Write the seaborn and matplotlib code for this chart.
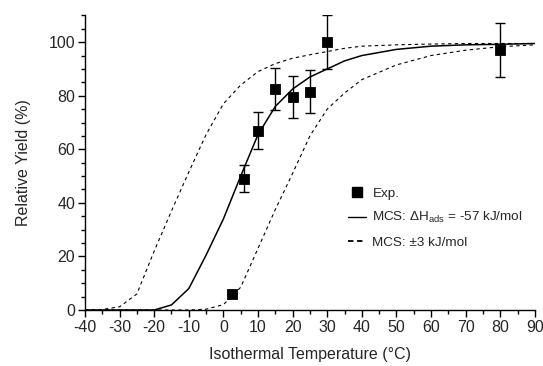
import numpy as np
import pandas as pd
import matplotlib
matplotlib.use("Agg")
import matplotlib.pyplot as plt
from matplotlib.lines import Line2D
from matplotlib.ticker import MultipleLocator
import seaborn as sns

# ------------------ Data ------------------
exp_temp = [2.5, 6, 10, 15, 20, 25, 30, 80]
exp_yield = [6, 49, 67, 82.5, 79.5, 81.5, 100, 97]
exp_err = [0, 5, 7, 8, 8, 8, 10, 10]

mcs_temp = [-40, -35, -30, -25, -20, -15, -10, -5, 0, 5, 10, 15, 20, 25, 30, 35, 40, 50, 60, 70, 80, 90]
mcs_yield = [0, 0, 0, 0, 0, 1.9, 8, 20.5, 34, 50, 65.5, 76, 82.5, 87, 90, 93, 95, 97.3, 98.5, 99, 99.2, 99.5]
mcs_low = [0, 0.2, 1.2, 6, 22, 37, 51.5, 65.5, 77, 84, 89, 92, 94, 95.3, 96.5, 97.7, 98.5, 99, 99.3, 99.5, 99.5, 99.5]
mcs_high = [0, 0, 0, 0, 0, 0, 0, 0.3, 2, 8.5, 23, 37.5, 51, 65, 75, 81, 86, 91.5, 95, 97, 98.3, 99]

sns.set_style("ticks")
plt.rcParams['font.family'] = ['Liberation Sans', 'DejaVu Sans']
plt.rcParams['mathtext.fontset'] = 'custom'
plt.rcParams['mathtext.rm'] = 'Liberation Sans'
plt.rcParams['axes.unicode_minus'] = False

df = pd.DataFrame({"T": mcs_temp, "mid": mcs_yield, "low": mcs_low, "high": mcs_high})

fig = plt.figure(figsize=(5.43, 3.66), dpi=100)
ax = fig.add_axes([0.1565, 0.153, 0.8285, 0.805])

sns.lineplot(data=df, x="T", y="mid", ax=ax, color="black", lw=1.1)
sns.lineplot(data=df, x="T", y="low", ax=ax, color="black", lw=0.8, linestyle=(0, (3, 3)))
sns.lineplot(data=df, x="T", y="high", ax=ax, color="black", lw=0.8, linestyle=(0, (3, 3)))

ax.errorbar(exp_temp, exp_yield, yerr=exp_err, fmt="none", ecolor="black", elinewidth=1.0, capsize=3.3, capthick=1.0, zorder=3)
sns.scatterplot(x=exp_temp, y=exp_yield, ax=ax, marker="s", s=55, color="black", edgecolor="black", zorder=4)

ax.set_xlim(-40, 90)
ax.set_ylim(0, 110)
ax.xaxis.set_major_locator(MultipleLocator(10))
ax.xaxis.set_minor_locator(MultipleLocator(5))
ax.yaxis.set_minor_locator(MultipleLocator(5))
ax.set_yticks([0, 20, 40, 60, 80, 100])
ax.tick_params(which="major", direction="out", length=5, width=1, labelsize=11.5, color="black", pad=2)
ax.tick_params(which="minor", direction="out", length=3, width=1, color="black")
for s in ["left", "bottom"]:
    ax.spines[s].set_color("black")
    ax.spines[s].set_linewidth(1)
sns.despine(ax=ax)

ax.set_xlabel("Isothermal Temperature (°C)", fontsize=11.5, labelpad=9)
ax.set_ylabel("Relative Yield (%)", fontsize=11.5, labelpad=13)

handles = [
    Line2D([], [], marker="s", color="black", ls="none", markersize=7.5),
    Line2D([], [], color="black", lw=1.0),
    Line2D([], [], color="black", lw=1.3, linestyle=(0, (3, 2))),
]
labels = ["Exp.", r"MCS: ΔH$_{\mathrm{ads}}$ = -57 kJ/mol", "MCS: ±3 kJ/mol"]
ax.legend(handles, labels, loc="upper left", bbox_to_anchor=(0.57, 0.44), frameon=False,
          fontsize=9.7, handlelength=1.3, handletextpad=0.5, labelspacing=0.8, borderpad=0)

fig.savefig("out.png", dpi=100)
